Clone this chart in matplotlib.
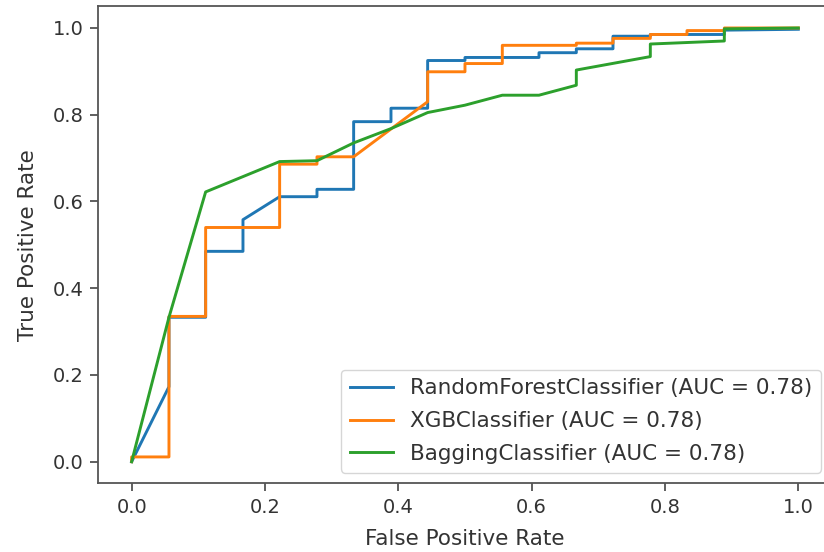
import matplotlib
matplotlib.use("Agg")
import matplotlib.pyplot as plt

# ROC curve points
rf_fpr = [0.0, 0.056, 0.056, 0.111, 0.111, 0.167, 0.167, 0.222, 0.278, 0.278, 0.333, 0.333,
          0.389, 0.389, 0.444, 0.444, 0.5, 0.5, 0.611, 0.611, 0.667, 0.667, 0.722, 0.722,
          0.778, 0.778, 0.889, 0.889, 1.0]
rf_tpr = [0.0, 0.173, 0.333, 0.333, 0.485, 0.485, 0.558, 0.611, 0.611, 0.628, 0.628, 0.784,
          0.784, 0.815, 0.815, 0.925, 0.925, 0.932, 0.932, 0.943, 0.943, 0.952, 0.952, 0.981,
          0.981, 0.985, 0.985, 0.995, 0.997]

xgb_fpr = [0.0, 0.0, 0.056, 0.056, 0.111, 0.111, 0.222, 0.222, 0.278, 0.278, 0.333, 0.444,
           0.444, 0.5, 0.5, 0.556, 0.556, 0.667, 0.667, 0.722, 0.722, 0.778, 0.778, 0.833,
           0.833, 0.889, 0.889, 1.0]
xgb_tpr = [0.0, 0.011, 0.011, 0.335, 0.335, 0.54, 0.54, 0.686, 0.686, 0.703, 0.703, 0.83,
           0.899, 0.899, 0.918, 0.918, 0.96, 0.96, 0.965, 0.965, 0.976, 0.976, 0.985, 0.985,
           0.994, 0.994, 1.0, 1.0]

bag_fpr = [0.0, 0.056, 0.111, 0.222, 0.278, 0.333, 0.389, 0.444, 0.5, 0.556, 0.611, 0.667,
           0.667, 0.778, 0.778, 0.889, 0.889, 1.0]
bag_tpr = [0.0, 0.333, 0.622, 0.692, 0.694, 0.735, 0.768, 0.805, 0.822, 0.845, 0.845, 0.868,
           0.903, 0.934, 0.963, 0.970, 0.998, 1.0]

labels = ["RandomForestClassifier (AUC = 0.78)",
          "XGBClassifier (AUC = 0.78)",
          "BaggingClassifier (AUC = 0.78)"]

tick_fs = 14
label_fs = 15.5
plt.rcParams['font.family'] = 'DejaVu Sans'

fig = plt.figure(figsize=(8.24, 5.52), dpi=100)
ax = fig.add_axes([0.1193, 0.1243, 0.89, 0.8643])

ax.plot(rf_fpr, rf_tpr, color='#1f77b4', lw=2.1, label=labels[0])
ax.plot(xgb_fpr, xgb_tpr, color='#ff7f0e', lw=2.1, label=labels[1])
ax.plot(bag_fpr, bag_tpr, color='#2ca02c', lw=2.1, label=labels[2])

ax.set_xlim(-0.05, 1.05)
ax.set_ylim(-0.05, 1.05)
ax.set_xticks([0.0, 0.2, 0.4, 0.6, 0.8, 1.0])
ax.set_yticks([0.0, 0.2, 0.4, 0.6, 0.8, 1.0])
ax.tick_params(labelsize=tick_fs, length=5.5, width=1.2, pad=5,
               colors='#444444', labelcolor='#333333')
for s in ax.spines.values():
    s.set_linewidth(1.3)
    s.set_color('#555555')

ax.set_xlabel("False Positive Rate", fontsize=label_fs, color='#333333', labelpad=9)
ax.set_ylabel("True Positive Rate", fontsize=label_fs, color='#333333', labelpad=11)

leg = ax.legend(loc='lower right', fontsize=label_fs, handlelength=2.0,
                borderaxespad=0.5, labelspacing=0.6)
for t in leg.get_texts():
    t.set_color('#333333')

fig.savefig("out.png", dpi=100)
